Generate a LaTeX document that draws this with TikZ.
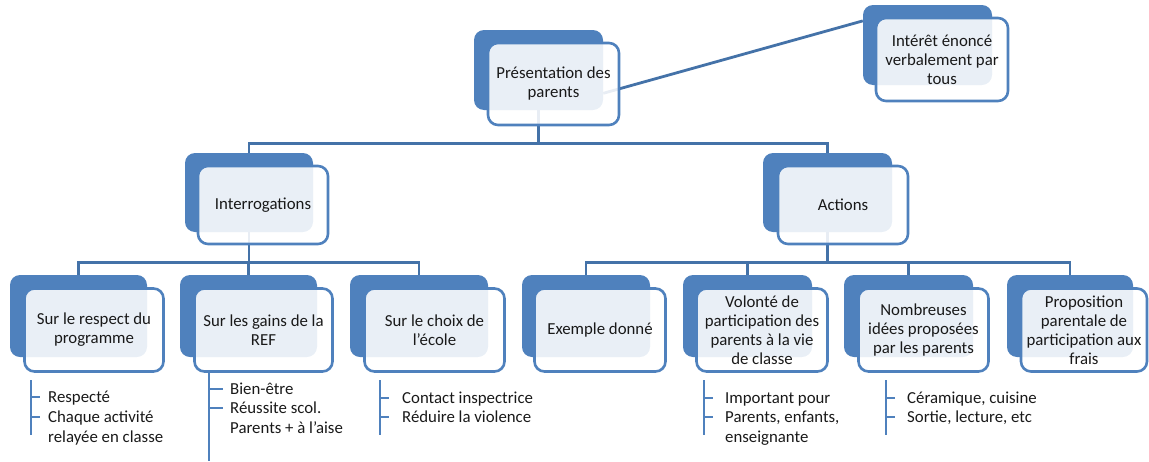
\documentclass[tikz,border=0pt]{standalone}
\usepackage{fontspec}
\setmainfont{Carlito}
\usetikzlibrary{calc}
\definecolor{accent}{RGB}{79,129,189}
\definecolor{linkblue}{RGB}{68,114,168}
\definecolor{ink}{RGB}{25,25,25}
\begin{document}
\begin{tikzpicture}[x=1pt,y=-1pt,
  backbox/.style 2 args={fill=accent, rounded corners=10pt, inner sep=0pt,
    minimum width=#1, minimum height=#2},
  frontbox/.style 2 args={draw=accent, line width=2.6pt, fill=white,
    fill opacity=0.88, text opacity=1, rounded corners=10pt, inner sep=2pt,
    minimum width=#1, minimum height=#2, align=center, text=ink,
    font=\fontsize{16.8}{19}\selectfont},
  conn/.style={draw=linkblue, line width=2.8pt},
  leafline/.style={draw=accent, line width=2pt},
  leaf/.style={anchor=west, inner sep=0pt, text height=10.5pt, text depth=0pt,
    text=ink, font=\fontsize{16.8}{19}\selectfont}]
\useasboundingbox (0,0) rectangle (1149,461);

% back plates
\node[backbox={129}{80}] (presB) at (538.5,70) {};
\node[backbox={129}{80}] (intB) at (927.5,45) {};
\node[backbox={128}{79}] (qB) at (249,192.5) {};
\node[backbox={129}{79}] (aB) at (827.5,192.5) {};
\node[backbox={137}{82}] (s1B) at (78.5,316) {};
\node[backbox={137}{82}] (s2B) at (248.5,316) {};
\node[backbox={138}{82}] (s3B) at (419,316) {};
\node[backbox={128}{82}] (s4B) at (586,316) {};
\node[backbox={129}{82}] (s5B) at (747.5,316) {};
\node[backbox={129}{82}] (s6B) at (908.5,316) {};
\node[backbox={126}{82}] (s7B) at (1070,316) {};

% hierarchy connectors
\draw[conn] (presB.south) -- ++(0,33) coordinate (bus1);
\draw[conn] (qB.north) |- (bus1) -| (aB.north);
\draw[conn] (qB.south) -- ++(0,30) coordinate (bus2);
\draw[conn] (s1B.north) |- (bus2) -| (s3B.north);
\draw[conn] (s2B.north) -- (s2B.north |- bus2);
\draw[conn] (aB.south) -- ++(0,30) coordinate (bus3);
\draw[conn] (s4B.north) |- (bus3) -| (s7B.north);
\draw[conn] (s5B.north) -- (s5B.north |- bus3);
\draw[conn] (s6B.north) -- (s6B.north |- bus3);
\draw[conn] ($(presB.north east)!0.79!(presB.south east)$) -- ($(intB.north west)!0.2!(intB.south west)$);

% front panels with labels
\node[frontbox={131}{82}] (pres) at (553.5,84) {Présentation des\\parents};
\node[frontbox={132}{83}] (int) at (942,59.5) {Intérêt énoncé\\verbalement par\\tous};
\node[frontbox={130}{78}] (q) at (263,205) {Interrogations};
\node[frontbox={130}{78}] (a) at (843,205) {Actions};
\node[frontbox={139}{83}] (s1) at (94,330) {Sur le respect du\\programme};
\node[frontbox={138}{83}] (s2) at (263.5,330) {Sur les gains de la\\REF};
\node[frontbox={140}{83}] (s3) at (434.5,330) {Sur le choix de\\l’école};
\node[frontbox={131}{83}] (s4) at (600,330) {Exemple donné};
\node[frontbox={131}{83}] (s5) at (762,330) {Volonté de\\participation des\\parents à la vie\\de classe};
\node[frontbox={130}{83}] (s6) at (923.5,330) {Nombreuses\\idées proposées\\par les parents};
\node[frontbox={126}{83}] (s7) at (1084,330) {Proposition\\parentale de\\participation aux\\frais};

% bullet lists
\coordinate (v1t) at (31,380); \coordinate (v1b) at (31,435);
\draw[leafline] (v1t) -- (v1b);
\node[leaf] (r1a) at (48,397) {Respecté};
\node[leaf] (r1b) at (48,417) {Chaque activité};
\node[leaf] (r1c) at (48,437) {relayée en classe};
\draw[leafline] (v1t |- r1a.west) -- ++(9,0);
\draw[leafline] (v1t |- r1b.west) -- ++(9,0);

\coordinate (v2t) at (209,372); \coordinate (v2b) at (209,461);
\draw[leafline] (v2t) -- (v2b);
\node[leaf] (r2a) at (230,389) {Bien-être};
\node[leaf] (r2b) at (230,408) {Réussite scol.};
\node[leaf] (r2c) at (230,428) {Parents + à l’aise};
\draw[leafline] (v2t |- r2a.west) -- ++(14,0);
\draw[leafline] (v2t |- r2b.west) -- ++(14,0);

\coordinate (v3t) at (380,380); \coordinate (v3b) at (380,435);
\draw[leafline] (v3t) -- (v3b);
\node[leaf] (r3a) at (402,398) {Contact inspectrice};
\node[leaf] (r3b) at (402,417) {Réduire la violence};
\draw[leafline] (v3t |- r3a.west) -- ++(9,0);
\draw[leafline] (v3t |- r3b.west) -- ++(9,0);

\coordinate (v4t) at (704,380); \coordinate (v4b) at (704,435);
\draw[leafline] (v4t) -- (v4b);
\node[leaf] (r4a) at (725,398) {Important pour};
\node[leaf] (r4b) at (725,417) {Parents, enfants,};
\node[leaf] (r4c) at (725,437) {enseignante};
\draw[leafline] (v4t |- r4a.west) -- ++(9,0);
\draw[leafline] (v4t |- r4b.west) -- ++(9,0);

\coordinate (v5t) at (886,380); \coordinate (v5b) at (886,435);
\draw[leafline] (v5t) -- (v5b);
\node[leaf] (r5a) at (907,398) {Céramique, cuisine};
\node[leaf] (r5b) at (907,417) {Sortie, lecture, etc};
\draw[leafline] (v5t |- r5a.west) -- ++(9,0);
\draw[leafline] (v5t |- r5b.west) -- ++(9,0);
\end{tikzpicture}
\end{document}
